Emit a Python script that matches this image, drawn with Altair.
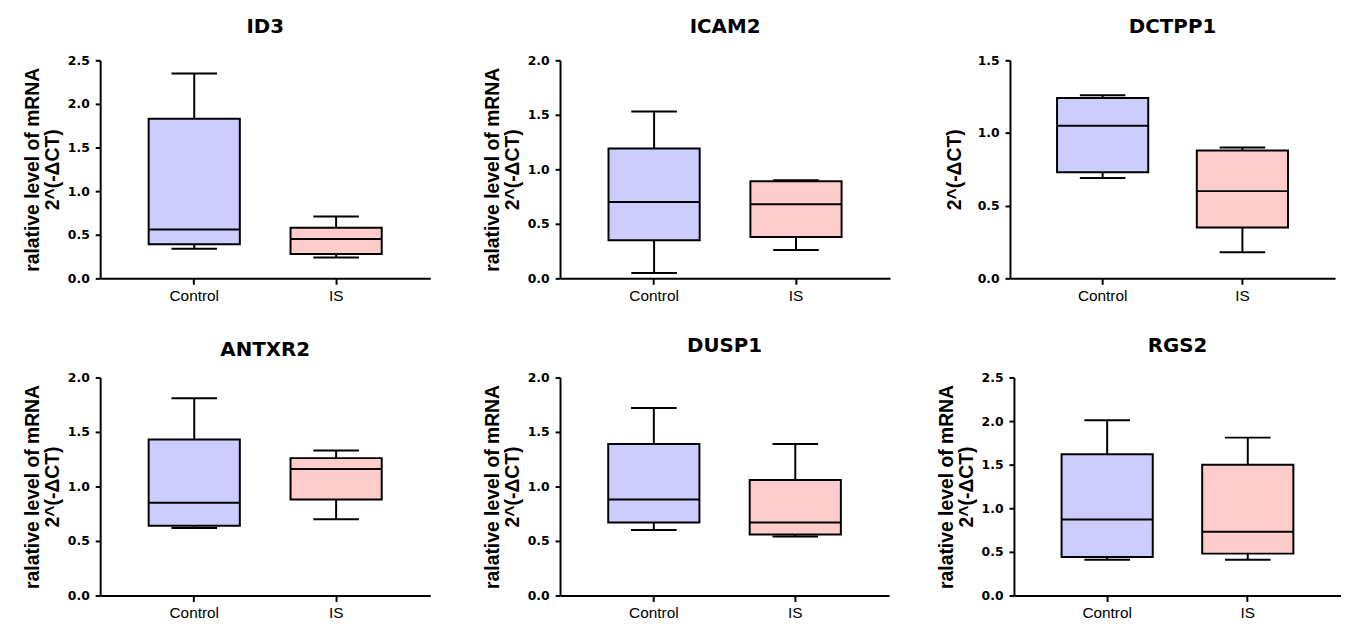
import altair as alt
import pandas as pd

genes = ["ID3", "ICAM2", "DCTPP1", "ANTXR2", "DUSP1", "RGS2"]
groups = ["Control", "IS"]

# five-number summaries per gene: [Control, IS]
whisker_low = [[0.34, 0.24], [0.05, 0.26], [0.69, 0.18], [0.62, 0.70], [0.60, 0.54], [0.41, 0.41]]
q1 = [[0.39, 0.28], [0.35, 0.38], [0.73, 0.35], [0.64, 0.88], [0.67, 0.56], [0.44, 0.48]]
median = [[0.56, 0.45], [0.70, 0.68], [1.05, 0.60], [0.85, 1.16], [0.88, 0.67], [0.87, 0.73]]
q3 = [[1.83, 0.58], [1.19, 0.89], [1.24, 0.88], [1.43, 1.26], [1.39, 1.06], [1.62, 1.50]]
whisker_high = [[2.35, 0.71], [1.53, 0.90], [1.26, 0.90], [1.81, 1.33], [1.72, 1.39], [2.01, 1.81]]

y_max = [2.5, 2.0, 1.5, 2.0, 2.0, 2.5]
y_ticks = {2.5: [0, 0.5, 1.0, 1.5, 2.0, 2.5], 2.0: [0, 0.5, 1.0, 1.5, 2.0], 1.5: [0, 0.5, 1.0, 1.5]}
y_titles = [
    ["ralative level of mRNA", "2^(-ΔCT)"],
    ["ralative level of mRNA", "2^(-ΔCT)"],
    "2^(-ΔCT)",
    ["ralative level of mRNA", "2^(-ΔCT)"],
    ["ralative level of mRNA", "2^(-ΔCT)"],
    ["ralative level of mRNA", "2^(-ΔCT)"],
]
fill_colors = ["#CCCCFF", "#FFCCCC"]

panel_widths = [333, 333, 328, 333, 332, 330]
title_pads = [5, 5, 13, 5, 5, 5]
title_offsets = [18, 17.5, 18, 12, 16, 16]

BOX = 92
CAP = 46


def panel(i):
    df = pd.DataFrame({
        "group": groups,
        "lo": whisker_low[i],
        "q1": q1[i],
        "med": median[i],
        "q3": q3[i],
        "hi": whisker_high[i],
    })
    xenc = alt.X(
        "group:N",
        sort=groups,
        scale=alt.Scale(domain=groups, paddingInner=0.3, paddingOuter=0.313),
        axis=alt.Axis(
            title=None, labelAngle=0, labelFont="Liberation Sans", labelFontSize=15.5,
            labelColor="black", domainColor="black", domainWidth=2, tickColor="black",
            tickWidth=2, tickSize=6, labelPadding=4,
        ),
    )
    yscale = alt.Scale(domain=[0, y_max[i]], nice=False, zero=True)
    yaxis = alt.Axis(
        values=y_ticks[y_max[i]], format=".1f", labelFont="DejaVu Sans", labelFontWeight="bold",
        labelFontSize=12.5, labelColor="black", labelPadding=6,
        title=y_titles[i], titleFont="Liberation Sans", titleFontSize=19.5, titleFontWeight="bold",
        titleColor="black", titlePadding=title_pads[i], titleLineHeight=20,
        domainColor="black", domainWidth=2, tickColor="black", tickWidth=2, tickSize=5, grid=False,
    )
    base = alt.Chart(df).encode(x=xenc)
    whisk = base.mark_rule(color="black", strokeWidth=2).encode(
        y=alt.Y("lo:Q", scale=yscale, axis=yaxis), y2="hi:Q")
    box = base.mark_bar(size=BOX, stroke="black", strokeWidth=2).encode(
        y="q1:Q", y2="q3:Q",
        color=alt.Color("group:N", scale=alt.Scale(domain=groups, range=fill_colors), legend=None),
    )
    med = base.mark_tick(size=BOX, thickness=2, color="black", opacity=1).encode(y="med:Q")
    cap_lo = base.mark_tick(size=CAP, thickness=2, color="black", opacity=1).encode(y="lo:Q")
    cap_hi = base.mark_tick(size=CAP, thickness=2, color="black", opacity=1).encode(y="hi:Q")
    return alt.layer(whisk, box, med, cap_lo, cap_hi).properties(
        width=panel_widths[i], height=220,
        title=alt.TitleParams(
            genes[i], font="DejaVu Sans", fontSize=20, fontWeight="bold", color="black",
            anchor="middle", frame="group", offset=title_offsets[i],
        ),
    )


row1 = alt.hconcat(alt.hconcat(panel(0), panel(1), spacing=52), panel(2), spacing=54)
row2 = alt.hconcat(alt.hconcat(panel(3), panel(4), spacing=52), panel(5), spacing=47)

chart = alt.vconcat(row1, row2, spacing=32).properties(
    padding={"left": 14, "top": 6, "right": 0, "bottom": 0}
).configure(background="white").configure_view(strokeWidth=0, stroke="transparent")

chart.save("out.html", embed_options={"renderer": "svg", "actions": False})
